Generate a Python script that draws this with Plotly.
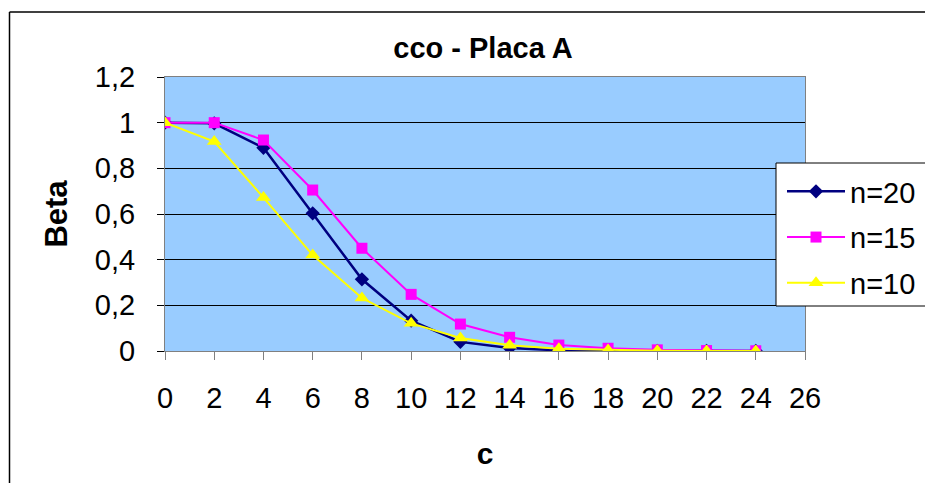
import plotly.graph_objects as go

c = [0, 2, 4, 6, 8, 10, 12, 14, 16, 18, 20, 22, 24]
beta_n20 = [1.0, 0.997, 0.89, 0.603, 0.314, 0.133, 0.04, 0.013, 0.003, 0.001, 0.0, 0.0, 0.0]
beta_n15 = [1.0, 1.0, 0.924, 0.705, 0.45, 0.248, 0.118, 0.06, 0.026, 0.012, 0.005, 0.002, 0.001]
beta_n10 = [1.0, 0.917, 0.672, 0.42, 0.232, 0.121, 0.057, 0.025, 0.01, 0.004, 0.001, 0.0, 0.0]
names = ["n=20", "n=15", "n=10"]
x_ticks = list(range(0, 27, 2))
y_ticks = [0, 0.2, 0.4, 0.6, 0.8, 1.0, 1.2]
y_tick_text = ["0", "0,2", "0,4", "0,6", "0,8", "1", "1,2"]

FONT = "Liberation Sans, Arial, sans-serif"
FS = 29

fig = go.Figure()
fig.add_trace(go.Scatter(x=c, y=beta_n20, name=names[0], mode="lines+markers", legendgroup="a",
                         line=dict(color="#000080", width=2.5),
                         marker=dict(symbol="diamond", size=11, color="#000080")))
fig.add_trace(go.Scatter(x=c, y=beta_n15, name=names[1], mode="lines+markers", legendgroup="b",
                         line=dict(color="#FF00FF", width=2),
                         marker=dict(symbol="square", size=11, color="#FF00FF")))
fig.add_trace(go.Scatter(x=c, y=beta_n10, name=names[2], mode="lines+markers", legendgroup="c",
                         line=dict(color="#FFFF00", width=2),
                         marker=dict(symbol="triangle-up", size=13, color="#FFFF00")))

L, R, T, B = 165, 805, 77, 351
W, H = 925, 483

def px(xp):
    return (xp - L) / (R - L)

def py(yp):
    return (B - yp) / (B - T)

fig.update_layout(
    width=W, height=H,
    margin=dict(l=L, r=W - R, t=T, b=H - B, autoexpand=False),
    paper_bgcolor="white",
    plot_bgcolor="#99CCFF",
    font=dict(family=FONT, size=FS, color="black"),
    title=dict(text="<b>cco - Placa A</b>", x=px(483), xanchor="center", xref="paper",
               y=1 - 48 / H, yanchor="middle", yref="container",
               font=dict(family=FONT, size=29, color="black")),
    showlegend=True,
    legend=dict(x=782 / W, y=1 - 166 / H, xref="container", yref="container",
                xanchor="left", yanchor="top",
                bgcolor="rgba(0,0,0,0)", borderwidth=0,
                traceorder="grouped", tracegroupgap=5,
                font=dict(family=FONT, size=FS, color="black"),
                itemwidth=58),
    xaxis=dict(range=[0, 26], tickvals=x_ticks, ticks="outside", ticklen=8,
               tickcolor="#808080", showgrid=False, zeroline=False,
               showline=True, linecolor="#808080", linewidth=1, mirror=True,
               ticklabelstandoff=13,
               tickfont=dict(size=FS), title=dict(text="<b>c</b>", font=dict(size=30), standoff=30)),
    yaxis=dict(range=[0, 1.2], tickvals=y_ticks, ticktext=y_tick_text, ticks="outside",
               ticklen=7, tickcolor="black", showgrid=True, gridcolor="black", gridwidth=1,
               zeroline=False, showline=True, linecolor="#808080", linewidth=1, mirror=True,
               ticklabelstandoff=16,
               tickfont=dict(size=FS), title=dict(text="<b>Beta</b>", font=dict(size=31), standoff=18)),
    shapes=[
        dict(type="rect", xref="paper", yref="paper", x0=px(776), x1=px(940), y0=py(306), y1=py(163),
             line=dict(color="black", width=1), fillcolor="white", layer="above"),
        dict(type="line", xref="paper", yref="paper", x0=px(9.5), x1=px(9.5), y0=py(12), y1=py(500),
             line=dict(color="black", width=1.5)),
        dict(type="line", xref="paper", yref="paper", x0=px(9.5), x1=px(940), y0=py(12), y1=py(12),
             line=dict(color="black", width=1.5)),
    ],
)

fig.write_html("out.html")
